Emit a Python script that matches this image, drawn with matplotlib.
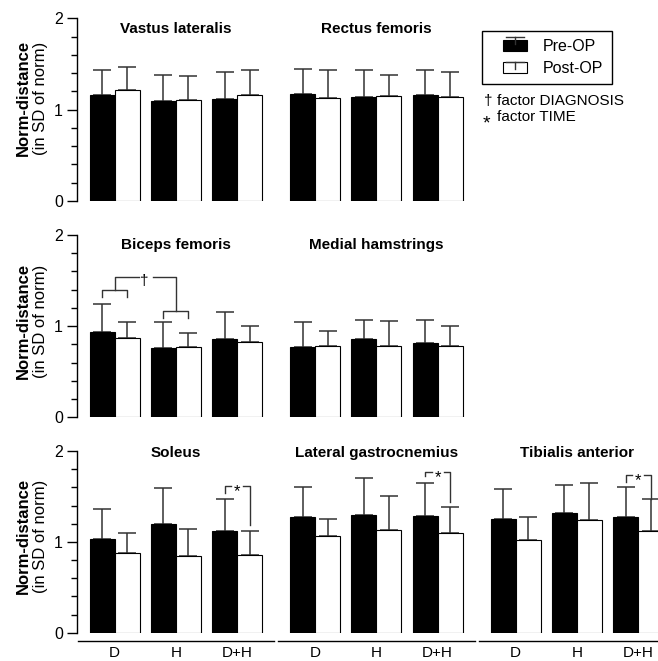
import matplotlib
matplotlib.use("Agg")
import matplotlib.pyplot as plt
from matplotlib.legend_handler import HandlerBase
from matplotlib.patches import Rectangle, Patch
from matplotlib.lines import Line2D

plt.rcParams['font.family'] = ['Liberation Sans', 'DejaVu Sans']

groups = ['D', 'H', 'D+H']

# rows of panels: muscle name, pre-OP mean, pre-OP SD, post-OP mean, post-OP SD
row1 = [
    ('Vastus lateralis', [1.16, 1.09, 1.12], [0.27, 0.29, 0.29], [1.21, 1.11, 1.16], [0.26, 0.26, 0.27]),
    ('Rectus femoris', [1.17, 1.14, 1.16], [0.28, 0.29, 0.27], [1.13, 1.15, 1.14], [0.30, 0.23, 0.27]),
]
row2 = [
    ('Biceps femoris', [0.935, 0.76, 0.855], [0.305, 0.285, 0.305], [0.87, 0.77, 0.825], [0.175, 0.16, 0.175]),
    ('Medial hamstrings', [0.775, 0.86, 0.815], [0.275, 0.207, 0.249], [0.78, 0.78, 0.78], [0.165, 0.276, 0.22]),
]
row3 = [
    ('Soleus', [1.03, 1.20, 1.116], [0.33, 0.39, 0.36], [0.873, 0.844, 0.859], [0.224, 0.296, 0.264]),
    ('Lateral gastrocnemius', [1.27, 1.30, 1.284], [0.337, 0.406, 0.366], [1.068, 1.134, 1.10], [0.182, 0.366, 0.287]),
    ('Tibialis anterior', [1.248, 1.317, 1.277], [0.332, 0.309, 0.323], [1.02, 1.237, 1.123], [0.253, 0.407, 0.345]),
]
rows = [row1, row2, row3]

# TIME brackets on D+H (row 3): top, left tick end, right line end
time_brackets = [(1.61, 1.54, 1.185), (1.77, 1.72, 1.44), (1.736, 1.66, 1.47)]

# layout (x in pixel-like units)
X0 = 12.5
BAR_W = 25.0
GROUP_STEP = 61.3
PANEL_STEP = 200.5
W, H = 658, 661
row_px = [(18.3, 201.0), (235.0, 417.3), (451.0, 632.7)]   # (top, bottom) in pixels
title_y = [1.84, 1.85, 1.93]
ylab_center_px = [98, 321, 536]
ERR_C = '#333333'


def group_center(p, g):
    return X0 + p * PANEL_STEP + g * GROUP_STEP + BAR_W


fig = plt.figure(figsize=(W / 100, H / 100), dpi=100)

axes = []
for r, panels in enumerate(rows):
    top, bot = row_px[r]
    ax = fig.add_axes([77 / W, 1 - bot / H, 623 / W, (bot - top) / H])
    ax.set_xlim(0, 623)
    ax.set_ylim(0, 2)
    for s in ['top', 'right', 'bottom']:
        ax.spines[s].set_visible(False)
    ax.spines['left'].set_linewidth(1.0)
    ax.set_xticks([])
    ax.set_yticks([0, 1, 2])
    ax.set_yticks([0.2, 0.4, 0.6, 0.8, 1.2, 1.4, 1.6, 1.8], minor=True)
    ax.tick_params(axis='y', which='major', length=7, width=1.0, labelsize=11.5, pad=3)
    ax.tick_params(axis='y', which='minor', length=4, width=1.0)
    ax.patch.set_visible(False)

    for p, (name, pre, pre_sd, post, post_sd) in enumerate(panels):
        xc = [group_center(p, g) for g in range(len(groups))]
        xb = [x - BAR_W / 2 for x in xc]
        xw = [x + BAR_W / 2 for x in xc]
        ax.errorbar(xb, pre, yerr=[[0] * 3, pre_sd], fmt='none', ecolor=ERR_C,
                    elinewidth=1.1, capsize=6.8, capthick=1.1, zorder=1)
        ax.errorbar(xw, post, yerr=[[0] * 3, post_sd], fmt='none', ecolor=ERR_C,
                    elinewidth=1.1, capsize=6.8, capthick=1.1, zorder=1)
        ax.bar(xb, pre, width=BAR_W, color='black', edgecolor='black', linewidth=0.8, zorder=2)
        ax.bar(xw, post, width=BAR_W, color='white', edgecolor='black', linewidth=0.8, zorder=2)
        ax.text(xc[1], title_y[r], name, ha='center', va='baseline', fontsize=11, fontweight='bold')

        if r == 2:
            # group axis line and labels
            ax.plot([xc[0] - 37, xc[2] + 37], [-0.088, -0.088], color='black', lw=1.0, clip_on=False)
            for g, lab in enumerate(groups):
                ax.text(xc[g], -0.265, lab, ha='center', va='baseline', fontsize=11, clip_on=False)
            # TIME bracket on D+H
            btop, bleft, bright = time_brackets[p]
            xl, xr = xb[2], xw[2]
            xm = (xl + xr) / 2
            ax.plot([xl, xl, xm - 6], [bleft, btop, btop], color=ERR_C, lw=1.0)
            ax.plot([xm + 6, xr, xr], [btop, btop, bright], color=ERR_C, lw=1.0)
            ax.text(xm, btop - 0.06, '*', ha='center', va='center', fontsize=12)

    axes.append(ax)
    yc = 1 - ylab_center_px[r] / H
    fig.text(23 / W, yc, 'Norm-distance', rotation=90, ha='center', va='center',
             fontsize=12, fontweight='bold')
    fig.text(40 / W, yc, '(in SD of norm)', rotation=90, ha='center', va='center', fontsize=12)

# DIAGNOSIS bracket in Biceps femoris
ax = axes[1]
cD, cH = group_center(0, 0), group_center(0, 1)
hw = BAR_W / 2
ax.plot([cD - hw, cD - hw, cD + hw, cD + hw], [1.32, 1.40, 1.40, 1.32], color=ERR_C, lw=1.0)
ax.plot([cH - hw, cH - hw, cH + hw, cH + hw], [1.09, 1.17, 1.17, 1.09], color=ERR_C, lw=1.0)
ax.plot([cD, cD, cD + 24], [1.40, 1.54, 1.54], color=ERR_C, lw=1.0)
ax.plot([cD + 38, cH, cH], [1.54, 1.54, 1.17], color=ERR_C, lw=1.0)
ax.text(cD + 30, 1.50, '\u2020', ha='center', va='center', fontsize=11)


class BarWithError(HandlerBase):
    def __init__(self, lift):
        super().__init__()
        self.lift = lift

    def create_artists(self, legend, orig_handle, xdescent, ydescent, width, height, fontsize, trans):
        x0 = -xdescent + width * 0.36
        w = width * 0.64
        y0 = -ydescent
        rect = Rectangle((x0, y0), w, height, facecolor=orig_handle.get_facecolor(),
                         edgecolor='black', lw=0.8, transform=trans)
        cx = x0 + w / 2
        cap = y0 + height + self.lift
        stem = Line2D([cx, cx], [cap, cap - 5], color=ERR_C, lw=1.0, transform=trans)
        bar = Line2D([cx - w * 0.37, cx + w * 0.37], [cap, cap], color=ERR_C, lw=1.0, transform=trans)
        return [rect, stem, bar]


pre_h = Patch(facecolor='black')
post_h = Patch(facecolor='white')
leg = fig.legend([pre_h, post_h], ['Pre-OP', 'Post-OP'], loc='upper left',
                 bbox_to_anchor=(481.7 / W, 1 - 31 / H), borderaxespad=0, fontsize=11.5,
                 frameon=True, fancybox=False, edgecolor='black', framealpha=1,
                 handlelength=2.35, handleheight=0.7, handletextpad=1.0,
                 borderpad=0.5, labelspacing=0.45,
                 handler_map={pre_h: BarWithError(2.2), post_h: BarWithError(0)})
leg.get_frame().set_linewidth(1.0)

fig.text(488 / W, 1 - 101 / H, '\u2020', ha='center', va='center', fontsize=11)
fig.text(497 / W, 1 - 105 / H, 'factor DIAGNOSIS', ha='left', va='baseline', fontsize=11)
fig.text(486 / W, 1 - 124 / H, '*', ha='center', va='center', fontsize=14)
fig.text(497 / W, 1 - 121 / H, 'factor TIME', ha='left', va='baseline', fontsize=11)

fig.savefig('out.png', dpi=100)
